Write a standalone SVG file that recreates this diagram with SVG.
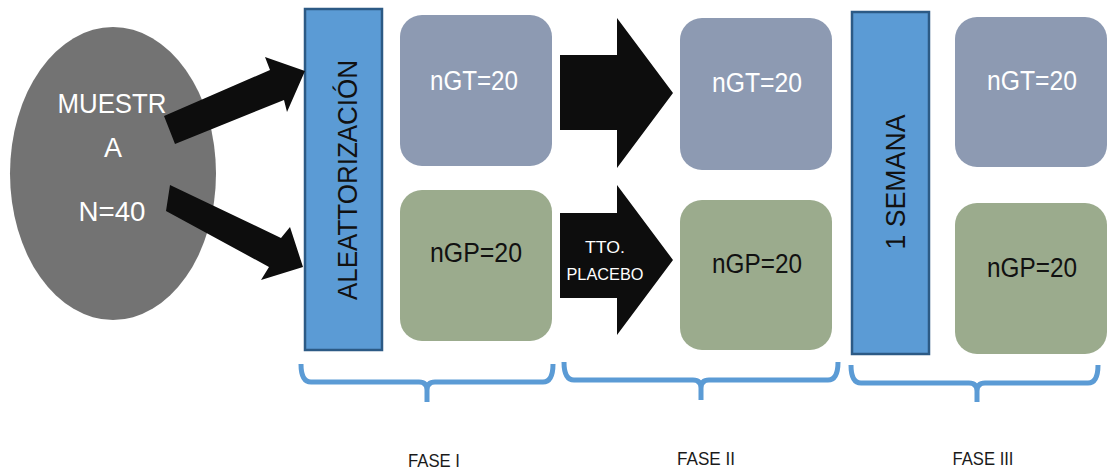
<svg xmlns="http://www.w3.org/2000/svg" width="1107" height="473" viewBox="0 0 1107 473">
  <style>
    text { font-family: "Liberation Sans", Arial, sans-serif; }
    .bar { fill: #5b9bd5; stroke: #2c5a85; stroke-width: 2.5; }
    .gt { fill: #8d9ab2; }
    .gp { fill: #9bab8d; }
    .lbl { font-size: 27px; text-anchor: middle; }
    .w { fill: #ffffff; }
    .k { fill: #111111; }
    .arrow { fill: #0d0d0d; }
    .brace { fill: none; stroke: #5b9bd5; stroke-width: 5; stroke-linecap: butt; stroke-linejoin: round; }
    .fase { font-size: 19px; text-anchor: middle; fill: #1a1a1a; }
  </style>

  <!-- sample -->
  <g id="muestra">
    <ellipse cx="113" cy="173.5" rx="103" ry="146.5" fill="#737373"/>
    <text class="lbl w" x="112" y="113" textLength="109" lengthAdjust="spacingAndGlyphs">MUESTR</text>
    <text class="lbl w" x="113" y="157">A</text>
    <text class="lbl w" x="112" y="221" textLength="67" lengthAdjust="spacingAndGlyphs">N=40</text>
  </g>

  <!-- randomisation bar -->
  <g id="aleatorizacion">
    <rect class="bar" x="305" y="9" width="77" height="341"/>
    <text class="k" transform="translate(357 180) rotate(-90)" text-anchor="middle" font-size="27" textLength="240" lengthAdjust="spacingAndGlyphs">ALEATTORIZACIÓN</text>
  </g>

  <!-- phase I groups -->
  <g id="f1-gt">
    <rect class="gt" x="400" y="15" width="152" height="151" rx="22"/>
    <text class="lbl w" x="474" y="90" textLength="88" lengthAdjust="spacingAndGlyphs">nGT=20</text>
  </g>
  <g id="f1-gp">
    <rect class="gp" x="400" y="190" width="152" height="151" rx="22"/>
    <text class="lbl k" x="476" y="262" textLength="92" lengthAdjust="spacingAndGlyphs">nGP=20</text>
  </g>

  <!-- phase II groups -->
  <g id="f2-gt">
    <rect class="gt" x="680" y="18" width="152" height="152" rx="22"/>
    <text class="lbl w" x="757" y="92" textLength="90" lengthAdjust="spacingAndGlyphs">nGT=20</text>
  </g>
  <g id="f2-gp">
    <rect class="gp" x="680" y="200" width="152" height="150" rx="22"/>
    <text class="lbl k" x="757" y="273" textLength="90" lengthAdjust="spacingAndGlyphs">nGP=20</text>
  </g>

  <!-- washout bar -->
  <g id="semana">
    <rect class="bar" x="852" y="12" width="77" height="342"/>
    <text class="k" transform="translate(905 182) rotate(-90)" text-anchor="middle" font-size="27" textLength="135" lengthAdjust="spacingAndGlyphs">1 SEMANA</text>
  </g>

  <!-- phase III groups -->
  <g id="f3-gt">
    <rect class="gt" x="955" y="17" width="152" height="150" rx="22"/>
    <text class="lbl w" x="1032" y="90" textLength="90" lengthAdjust="spacingAndGlyphs">nGT=20</text>
  </g>
  <g id="f3-gp">
    <rect class="gp" x="955" y="203" width="152" height="151" rx="22"/>
    <text class="lbl k" x="1032" y="277" textLength="90" lengthAdjust="spacingAndGlyphs">nGP=20</text>
  </g>

  <!-- connectors -->
  <g id="connectors">
    <polygon class="arrow" points="164,116 270,70 265,57 305,71 287,112 284,100 175,144"/>
    <polygon class="arrow" points="170,185 281,238 290,227 303,267 261,280 269,267 166,211"/>
    <polygon class="arrow" points="560,55 617,55 617,18 673,93 617,168 617,130 560,130"/>
    <g id="placebo-arrow">
      <polygon class="arrow" points="560,213 617,213 617,185 673,260 617,335 617,298 560,298"/>
      <text x="605" y="253" font-size="17" text-anchor="middle" fill="#ffffff" textLength="40" lengthAdjust="spacingAndGlyphs">TTO.</text>
      <text x="605" y="280" font-size="17" text-anchor="middle" fill="#ffffff" textLength="77" lengthAdjust="spacingAndGlyphs">PLACEBO</text>
    </g>
  </g>

  <!-- phase braces and labels -->
  <g id="fase-1">
    <path class="brace" d="M301,364 Q301,382 311,382 H419 Q427,382 427,390 V402 M427,390 Q427,382 435,382 H543 Q553,382 553,364"/>
    <text class="fase" x="434" y="467" textLength="52" lengthAdjust="spacingAndGlyphs">FASE I</text>
  </g>
  <g id="fase-2">
    <path class="brace" d="M564,362 Q564,380 574,380 H693 Q701,380 701,388 V400 M701,388 Q701,380 709,380 H828 Q838,380 838,362"/>
    <text class="fase" x="706" y="465" textLength="58" lengthAdjust="spacingAndGlyphs">FASE II</text>
  </g>
  <g id="fase-3">
    <path class="brace" d="M851,365 Q851,383 861,383 H969 Q977,383 977,391 V402 M977,391 Q977,383 985,383 H1088 Q1098,383 1098,365"/>
    <text class="fase" x="983" y="465" textLength="61" lengthAdjust="spacingAndGlyphs">FASE III</text>
  </g>
</svg>
